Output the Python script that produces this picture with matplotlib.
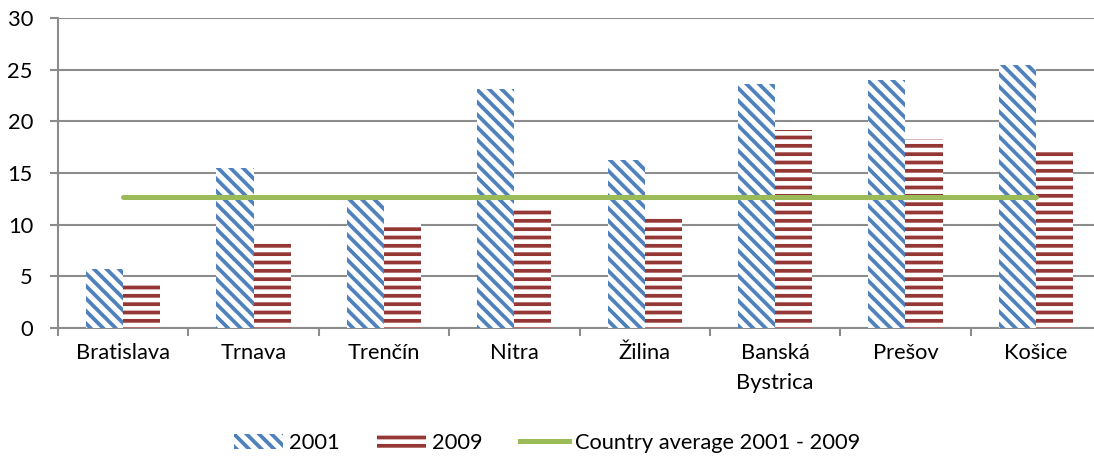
import numpy as np
import matplotlib
matplotlib.use("Agg")
import matplotlib.pyplot as plt
from matplotlib.patches import Patch
from matplotlib.lines import Line2D

# data
regions = ["Bratislava", "Trnava", "Trenčín", "Nitra", "Žilina",
           "Banská\nBystrica", "Prešov", "Košice"]
val_2001 = [5.7, 15.5, 12.7, 23.1, 16.3, 23.6, 24.0, 25.5]
val_2009 = [4.3, 8.3, 10.1, 11.6, 10.9, 19.2, 18.3, 17.2]
country_avg = 12.7

blue = "#4F81BD"
red = "#953735"
green = "#9BBB59"
grid_col = "#8C8C8C"

plt.rcParams['font.family'] = ['Lato', 'DejaVu Sans']
plt.rcParams['hatch.linewidth'] = 1.8

fig = plt.figure(figsize=(1094 / 150, 458 / 150), dpi=150)
ax = fig.add_axes([58 / 1094, 1 - 328 / 458, (1101 - 58) / 1094, (328 - 18) / 458])

x = np.arange(len(regions))
w = 0.285
ax.bar(x - w / 2, val_2001, w, facecolor="white", edgecolor=blue,
       hatch="\\\\\\\\", linewidth=0, zorder=3)
ax.bar(x + w / 2, val_2009, w, facecolor="white", edgecolor=red,
       hatch="---", linewidth=0, zorder=3)
ax.plot([x[0], x[-1]], [country_avg, country_avg], color=green, lw=2.4,
        solid_capstyle="round", zorder=4)

ax.set_xlim(-0.5, len(regions) - 0.5)
ax.set_ylim(0, 30)
ax.set_yticks(range(0, 31, 5))
ax.yaxis.grid(True, color=grid_col, lw=1.0, zorder=0)
ax.set_axisbelow(True)

ax.set_xticks(x)
ax.set_xticklabels(regions, fontsize=10.5, va="top", linespacing=1.65)
ax.set_xticks(np.arange(len(regions) + 1) - 0.5, minor=True)
ax.tick_params(axis="x", which="major", length=0, pad=7)
ax.tick_params(axis="x", which="minor", length=4, color=grid_col, width=1.0)
ax.tick_params(axis="y", length=4, color=grid_col, width=1.0, labelsize=10.5, pad=8)

for s in ["top", "right"]:
    ax.spines[s].set_visible(False)
for s in ["left", "bottom"]:
    ax.spines[s].set_color(grid_col)
    ax.spines[s].set_linewidth(1.0)

handles = [Patch(facecolor="white", edgecolor=blue, hatch="\\\\\\\\", lw=0),
           Patch(facecolor="white", edgecolor=red, hatch="---", lw=0),
           Line2D([], [], color=green, lw=2.4)]
fig.legend(handles, ["2001", "2009", "Country average 2001 - 2009"],
           loc="center", bbox_to_anchor=(0.5, 1 - 443 / 458), ncol=3,
           frameon=False, fontsize=10.5, handlelength=2.25, handleheight=0.7,
           handletextpad=0.27, columnspacing=1.7)

fig.savefig("out.png", dpi=150)
